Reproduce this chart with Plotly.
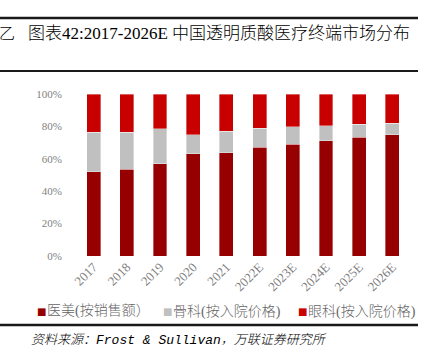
import plotly.graph_objects as go

categories = ["2017", "2018", "2019", "2020", "2021", "2022E", "2023E", "2024E", "2025E", "2026E"]
yimei = [0.52, 0.537, 0.57, 0.63, 0.638, 0.671, 0.691, 0.712, 0.733, 0.749]
guke = [0.245, 0.228, 0.214, 0.117, 0.132, 0.117, 0.107, 0.092, 0.080, 0.070]
yanke = [round(1 - a - b, 3) for a, b in zip(yimei, guke)]
series_names = ["医美(按销售额）", "骨科(按入院价格)", "眼科(按入院价格)"]
tick_vals = [0, 0.2, 0.4, 0.6, 0.8, 1.0]
tick_text = ["0%", "20%", "40%", "60%", "80%", "100%"]

W, H = 430, 353
L, R, T, B = 77, 21, 94, 97
pw, ph = W - L - R, H - T - B

def px(x):
    return (x - L) / pw

def py(y):
    return (H - B - y) / ph

fig = go.Figure()
colors = ["#960000", "#C0C0C0", "#C80000"]
for name, vals, c in zip(series_names, [yimei, guke, yanke], colors):
    fig.add_trace(go.Bar(x=categories, y=vals, name=name, showlegend=False,
                         marker=dict(color=c, line=dict(width=0.6, color="rgba(255,255,255,0.6)"))))

serif = "Liberation Serif, Noto Sans CJK SC, serif"
fig.update_layout(
    width=W, height=H,
    margin=dict(l=L, r=R, t=T, b=B),
    barmode="stack", bargap=0.58,
    plot_bgcolor="white", paper_bgcolor="white",
    xaxis=dict(tickangle=-45, tickfont=dict(family=serif, size=13, color="#7f7f7f"),
               showline=False, ticks="", showgrid=False),
    yaxis=dict(range=[0, 1], tickvals=tick_vals, ticktext=tick_text, showgrid=False,
               tickfont=dict(family=serif, size=11, color="#7f7f7f"),
               ticks="outside", ticklen=12, tickcolor="rgba(0,0,0,0)", showline=False, zeroline=False),
)

# legend built from series names and colours
leg_x = [35, 161, 296]
for name, c, x in zip(series_names, colors, leg_x):
    fig.add_annotation(text="■", xref="paper", yref="paper", x=px(x), y=py(311), xanchor="left", yanchor="middle",
                       showarrow=False, font=dict(family="DejaVu Sans", size=10, color=c))
    fig.add_annotation(text=name, xref="paper", yref="paper", x=px(x + 10), y=py(311), xanchor="left", yanchor="middle",
                       showarrow=False, font=dict(family=serif, size=14, color="#666666", weight=300))

# horizontal rules
for y, wdt in [(18, 2.5), (71, 2), (325, 2.5)]:
    fig.add_shape(type="line", xref="paper", yref="paper", x0=px(0), x1=px(418), y0=py(y), y1=py(y),
                  line=dict(color="#1a1a1a", width=wdt))

fig.add_annotation(text="乙", xref="paper", yref="paper", x=px(-3), y=py(33), xanchor="left", yanchor="middle",
                   showarrow=False, font=dict(family=serif, size=16, color="#000000", weight=300))
fig.add_annotation(text="图表42:2017-2026E 中国透明质酸医疗终端市场分布", xref="paper", yref="paper",
                   x=px(26), y=py(33), xanchor="left", yanchor="middle", showarrow=False,
                   font=dict(family=serif, size=17, color="#000000", weight=300))
fig.add_annotation(text="<i>资料来源：Frost & Sullivan，万联证券研究所</i>", xref="paper", yref="paper",
                   x=px(29), y=py(340), xanchor="left", yanchor="middle", showarrow=False,
                   font=dict(family="Liberation Mono, Noto Sans CJK SC, monospace", size=13, color="#000000", weight=300))

fig.write_html("out.html")
